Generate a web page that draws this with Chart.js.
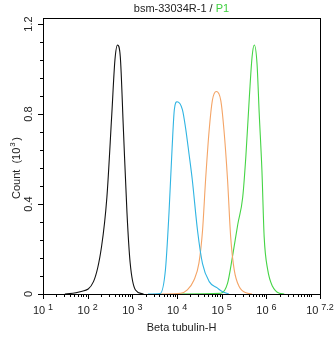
<!DOCTYPE html>
<html>
<head>
<meta charset="utf-8">
<script src="https://cdn.jsdelivr.net/npm/chart.js@4"></script>
<style>
  html, body { margin: 0; padding: 0; background: #fff; }
  #wrap { width: 334px; height: 337px; }
</style>
</head>
<body>
<div id="wrap"><canvas id="histo" width="334" height="337"></canvas></div>
<script>
// --- Datos (x = exponente de 10, y = cuentas en 10^3) ---
const blackLog   = [1.49, 1.83, 2.13, 2.31, 2.43, 2.54, 2.61, 2.667, 2.73, 2.80, 2.88, 2.95, 3.07, 3.25];
const blackCount = [0, 0.01, 0.055, 0.21, 0.43, 0.80, 1.04, 1.107, 1.055, 0.73, 0.36, 0.14, 0.018, 0];

const cyanLog   = [3.35, 3.62, 3.74, 3.82, 3.89, 3.94, 4.00, 4.12, 4.19, 4.27, 4.34, 4.46, 4.57, 4.72, 4.90, 5.02, 5.16];
const cyanCount = [0, 0.002, 0.107, 0.36, 0.65, 0.82, 0.855, 0.82, 0.74, 0.62, 0.51, 0.28, 0.135, 0.055, 0.027, 0.01, 0];

const orangeLog   = [3.63, 4.08, 4.23, 4.38, 4.49, 4.57, 4.64, 4.72, 4.79, 4.88, 4.98, 5.05, 5.13, 5.20, 5.28, 5.39, 5.58, 5.68];
const orangeCount = [0, 0.003, 0.018, 0.062, 0.137, 0.28, 0.51, 0.73, 0.86, 0.90, 0.86, 0.73, 0.51, 0.255, 0.107, 0.033, 0.003, 0];

const greenLog   = [4.05, 4.98, 5.13, 5.24, 5.36, 5.47, 5.54, 5.62, 5.68, 5.73, 5.79, 5.84, 5.90, 5.95, 6.03, 6.14, 6.29, 6.40];
const greenCount = [0, 0.003, 0.047, 0.165, 0.31, 0.43, 0.61, 0.88, 1.055, 1.107, 1.025, 0.80, 0.55, 0.255, 0.107, 0.033, 0.003, 0];

const xTickExp = [1, 2, 3, 4, 5, 6, 7.2];
const yTickVals = [0, 0.4, 0.8, 1.2];

const FONT = '"Liberation Sans", Arial, sans-serif';
const TXT = '#222';

function puntos(logs, counts) {
  return logs.map((e, i) => ({ x: Math.pow(10, e), y: counts[i] }));
}

function serie(logs, counts, color) {
  return {
    data: puntos(logs, counts),
    borderColor: color,
    borderWidth: 1.1,
    pointRadius: 0,
    fill: false,
    cubicInterpolationMode: 'monotone'
  };
}

// --- Ejes y textos dibujados a mano ---
const ejesPlugin = {
  id: 'ejes',
  afterDraw(chart) {
    const ctx = chart.ctx;
    const a = chart.chartArea;
    const xs = chart.scales.x, ys = chart.scales.y;
    ctx.save();
    ctx.strokeStyle = '#000';
    ctx.lineWidth = 1;
    ctx.strokeRect(Math.round(a.left) + 0.5, Math.round(a.top) + 0.5,
                   Math.round(a.right - a.left), Math.round(a.bottom - a.top));

    // ticks eje y
    ctx.beginPath();
    for (let i = 0; i <= 15; i++) {
      const v = i * 0.08;
      const py = Math.round(ys.getPixelForValue(v)) + 0.5;
      const len = (i % 5 === 0) ? 5 : 3;
      ctx.moveTo(a.left, py);
      ctx.lineTo(a.left - len, py);
    }
    // ticks eje x
    for (let n = 1; n <= 7; n++) {
      for (let k = 1; k <= 9; k++) {
        const v = k * Math.pow(10, n);
        if (v > xs.max) break;
        const px = Math.round(xs.getPixelForValue(v)) + 0.5;
        const len = (k === 1 && n <= 6) ? 5 : 3;
        ctx.moveTo(px, a.bottom);
        ctx.lineTo(px, a.bottom + len);
      }
    }
    const pr = Math.round(xs.getPixelForValue(xs.max)) + 0.5;
    ctx.moveTo(pr, a.bottom);
    ctx.lineTo(pr, a.bottom + 5);
    ctx.stroke();

    // etiquetas y
    ctx.fillStyle = TXT;
    ctx.font = '11px ' + FONT;
    ctx.textAlign = 'center';
    ctx.textBaseline = 'middle';
    yTickVals.forEach(v => {
      const py = ys.getPixelForValue(v);
      ctx.save();
      ctx.translate(a.left - 14, py);
      ctx.rotate(-Math.PI / 2);
      ctx.fillText(String(v), 0, 0);
      ctx.restore();
    });

    // etiquetas x: 10 con exponente, centradas en el tick
    ctx.textBaseline = 'alphabetic';
    ctx.textAlign = 'left';
    xTickExp.forEach(e => {
      const px = xs.getPixelForValue(Math.pow(10, e));
      ctx.font = '11px ' + FONT;
      const wBase = ctx.measureText('10').width;
      ctx.font = '9px ' + FONT;
      const wExp = ctx.measureText(String(e)).width;
      const x0 = px - (wBase + 3 + wExp) / 2;
      ctx.font = '11px ' + FONT;
      ctx.fillText('10', x0, a.bottom + 20);
      ctx.font = '9px ' + FONT;
      ctx.fillText(String(e), x0 + wBase + 3, a.bottom + 16);
    });

    // título de eje x
    ctx.font = '11px ' + FONT;
    ctx.textAlign = 'center';
    ctx.fillText('Beta tubulin-H', (a.left + a.right) / 2, a.bottom + 37);

    // título de eje y
    ctx.save();
    ctx.translate(16, (a.top + a.bottom) / 2 + 12);
    ctx.rotate(-Math.PI / 2);
    ctx.font = '11px ' + FONT;
    ctx.textAlign = 'left';
    const w1 = ctx.measureText('Count  (10').width;
    const full = w1 + 7 + ctx.measureText(')').width;
    const c0 = -full / 2;
    ctx.fillText('Count  (10', c0, 4);
    ctx.font = '8px ' + FONT;
    ctx.fillText('3', c0 + w1 + 1, -1);
    ctx.font = '11px ' + FONT;
    ctx.fillText(')', c0 + w1 + 7, 4);
    ctx.restore();

    // título superior
    ctx.font = '11px ' + FONT;
    ctx.textAlign = 'left';
    const t1 = 'bsm-33034R-1 / ';
    const t2 = 'P1';
    const tw = ctx.measureText(t1).width + ctx.measureText(t2).width;
    const tx = (a.left + a.right) / 2 - tw / 2;
    ctx.fillStyle = TXT;
    ctx.fillText(t1, tx, 12);
    ctx.fillStyle = '#3fcf3f';
    ctx.fillText(t2, tx + ctx.measureText(t1).width, 12);
    ctx.restore();
  }
};

// --- Crear gráfico ---
new Chart(document.getElementById('histo'), {
  type: 'line',
  data: {
    datasets: [
      serie(blackLog, blackCount, '#111111'),
      serie(cyanLog, cyanCount, '#2fb4e2'),
      serie(orangeLog, orangeCount, '#f4a466'),
      serie(greenLog, greenCount, '#45d445')
    ]
  },
  options: {
    responsive: false,
    animation: false,
    layout: { padding: { left: 43, right: 14, top: 18, bottom: 43 } },
    plugins: { legend: { display: false }, tooltip: { enabled: false } },
    scales: {
      x: { type: 'logarithmic', min: 10, max: Math.pow(10, 7.2), display: false },
      y: { type: 'linear', min: 0, max: 1.227, display: false }
    }
  },
  plugins: [ejesPlugin]
});
</script>
</body>
</html>
